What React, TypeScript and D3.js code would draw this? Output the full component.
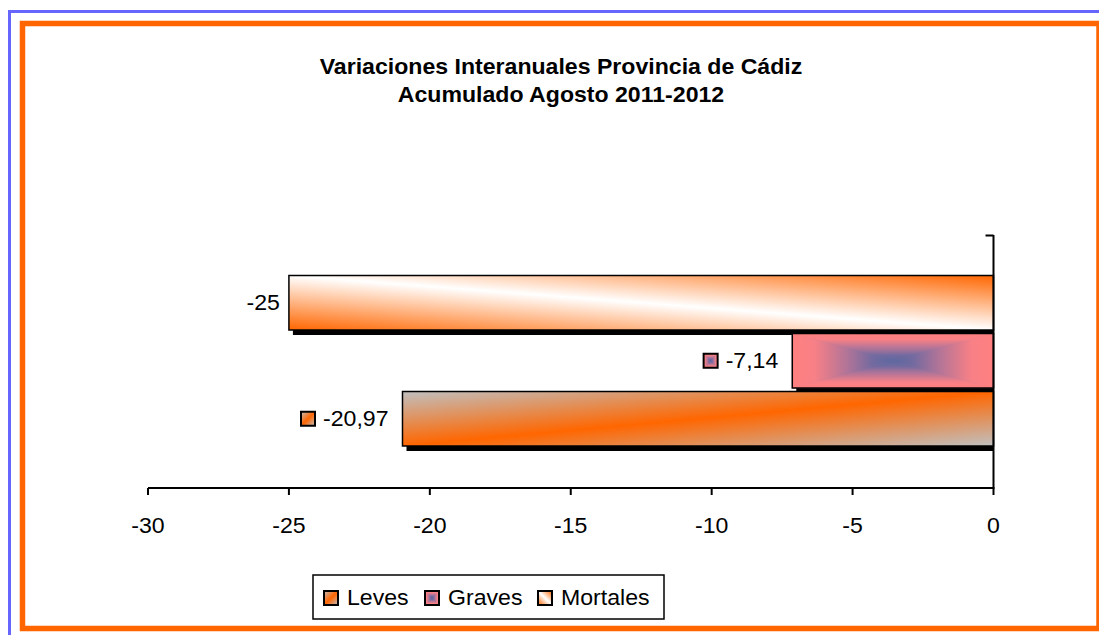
import React from 'react';
import * as d3 from 'd3';

const titleLines = ['Variaciones Interanuales Provincia de Cádiz', 'Acumulado Agosto 2011-2012'];
const legendSeries = ['Leves', 'Graves', 'Mortales'];
const barOrder = ['Mortales', 'Graves', 'Leves'];
const seriesValues = [-20.97, -7.14, -25];
const valueLabels = ['-20,97', '-7,14', '-25'];
const labelHasKey = [true, true, false];
const xTicks = [-30, -25, -20, -15, -10, -5, 0];
const xDomain = [-30, 0];

const W = 1099;
const H = 635;
const FONT = '"Liberation Sans", Arial, sans-serif';
const SX = 1.05;
const FS = 22;
const ORANGE = '#FF6600';

// Arial advance widths (per em) for label measuring
const CW: Record<string, number> = { '-': 0.333, ',': 0.278, '.': 0.278 };
function textWidth(s: string, size: number) {
  let w = 0;
  for (const c of s) w += CW[c] ?? 0.556;
  return w * size * SX;
}

function STxt(props: { x: number; y: number; anchor?: string; size?: number; bold?: boolean; children: React.ReactNode }) {
  const { x, y, anchor = 'start', size = FS, bold = false, children } = props;
  return (
    <text
      transform={`translate(${x},${y}) scale(${SX},1)`}
      textAnchor={anchor}
      fontFamily={FONT}
      fontSize={size}
      fontWeight={bold ? 'bold' : 'normal'}
      fill="#000"
    >
      {children}
    </text>
  );
}

function gradId(name: string) {
  return 'g-' + name;
}

function GravesFill({ x0, x1, y0, y1, id }: { x0: number; x1: number; y0: number; y1: number; id: string }) {
  const cx = (x0 + x1) / 2;
  const cy = (y0 + y1) / 2;
  const stops = (
    <>
      <stop offset="0" stopColor="#FF8080" />
      <stop offset="0.22" stopColor="#F88086" />
      <stop offset="0.55" stopColor="#B07498" />
      <stop offset="0.8" stopColor="#726AA0" />
      <stop offset="1" stopColor="#5C68A0" />
    </>
  );
  return (
    <g>
      <defs>
        <linearGradient id={id + 't'} gradientUnits="userSpaceOnUse" x1={cx} y1={y0} x2={cx} y2={cy}>{stops}</linearGradient>
        <linearGradient id={id + 'b'} gradientUnits="userSpaceOnUse" x1={cx} y1={y1} x2={cx} y2={cy}>{stops}</linearGradient>
        <linearGradient id={id + 'l'} gradientUnits="userSpaceOnUse" x1={x0} y1={cy} x2={cx} y2={cy}>{stops}</linearGradient>
        <linearGradient id={id + 'r'} gradientUnits="userSpaceOnUse" x1={x1} y1={cy} x2={cx} y2={cy}>{stops}</linearGradient>
      </defs>
      <rect x={x0} y={y0} width={x1 - x0} height={y1 - y0} fill="#B07498" />
      <polygon points={`${x0},${y0} ${x1},${y0} ${cx},${cy}`} fill={`url(#${id}t)`} stroke={`url(#${id}t)`} strokeWidth={0.5} />
      <polygon points={`${x0},${y1} ${x1},${y1} ${cx},${cy}`} fill={`url(#${id}b)`} stroke={`url(#${id}b)`} strokeWidth={0.5} />
      <polygon points={`${x0},${y0} ${x0},${y1} ${cx},${cy}`} fill={`url(#${id}l)`} stroke={`url(#${id}l)`} strokeWidth={0.5} />
      <polygon points={`${x1},${y0} ${x1},${y1} ${cx},${cy}`} fill={`url(#${id}r)`} stroke={`url(#${id}r)`} strokeWidth={0.5} />
    </g>
  );
}

function Fill({ name, x0, x1, y0, y1, id }: { name: string; x0: number; x1: number; y0: number; y1: number; id: string }) {
  if (name === 'Graves') return <GravesFill x0={x0} x1={x1} y0={y0} y1={y1} id={id} />;
  return <rect x={x0} y={y0} width={x1 - x0} height={y1 - y0} fill={`url(#${gradId(name)})`} />;
}

export default function App() {
  const x = d3.scaleLinear().domain(xDomain).range([148, 993.5]);
  const plotTop = 235;
  const plotBottom = 488;
  const y = d3.scaleBand<string>().domain(barOrder).range([273.5, 447.5]).padding(0);
  const bw = y.bandwidth();
  const barInsetTop = 2;
  const barInsetBottom = 1.5;
  const shadowDx = 4;
  const shadowDy = 5;

  const bars = barOrder.map((name) => {
    const i = legendSeries.indexOf(name);
    const v = seriesValues[i];
    const xa = x(Math.min(v, 0));
    const xb = x(Math.max(v, 0));
    const y0 = (y(name) as number) + barInsetTop;
    const y1 = (y(name) as number) + bw - barInsetBottom;
    return { name, v, i, xa, xb, y0, y1, cy: (y0 + y1) / 2 };
  });

  const legend = { x: 313, y: 575, w: 351, h: 44 };
  const legendItemX = [323, 424, 537];
  const key = 14;

  return (
    <svg width={W} height={H} style={{ position: 'absolute', left: 0, top: 0, background: '#fff' }}>
      <defs>
        <linearGradient id={gradId('Mortales')} x1="0" y1="1" x2="1" y2="0">
          <stop offset="0" stopColor={ORANGE} />
          <stop offset="0.5" stopColor="#FFFFFF" />
          <stop offset="1" stopColor={ORANGE} />
        </linearGradient>
        <linearGradient id={gradId('Leves')} x1="0" y1="0" x2="1" y2="1">
          <stop offset="0" stopColor="#C0C0C0" />
          <stop offset="0.5" stopColor={ORANGE} />
          <stop offset="1" stopColor="#C0C0C0" />
        </linearGradient>
        <clipPath id="plotclip">
          <rect x={0} y={plotTop} width={x(0)} height={plotBottom - plotTop} />
        </clipPath>
      </defs>

      <rect x={0} y={0} width={W} height={H} fill="#fff" />
      <rect x={9.5} y={11.5} width={W + 20} height={H + 20} fill="none" stroke="#6666FF" strokeWidth={3} />
      <rect x={22.5} y={23.5} width={1099 - 22.5} height={628.5 - 23.5} fill="none" stroke={ORANGE} strokeWidth={5.5} />

      <STxt x={561} y={74} anchor="middle" bold>{titleLines[0]}</STxt>
      <STxt x={561} y={101.5} anchor="middle" bold>{titleLines[1]}</STxt>

      <g clipPath="url(#plotclip)">
        {bars.map((b) => (
          <rect key={'s' + b.name} x={b.xa + shadowDx} y={b.y0 + shadowDy} width={b.xb - b.xa} height={b.y1 - b.y0} fill="#000" />
        ))}
      </g>
      {bars.map((b) => (
        <g key={b.name}>
          <Fill name={b.name} x0={b.xa} x1={b.xb} y0={b.y0} y1={b.y1} id={'bar' + b.name} />
          <rect x={b.xa} y={b.y0} width={b.xb - b.xa} height={b.y1 - b.y0} fill="none" stroke="#000" strokeWidth={1.5} />
        </g>
      ))}

      {bars.map((b) => {
        const label = valueLabels[b.i];
        const tx = b.xa - (labelHasKey[b.i] ? 14 : 9);
        const kx = tx - textWidth(label, FS) - 8 - key;
        return (
          <g key={'l' + b.name}>
            <STxt x={tx} y={b.cy + 7.5} anchor="end">{label}</STxt>
            {labelHasKey[b.i] && (
              <g>
                <Fill name={b.name} x0={kx} x1={kx + key} y0={b.cy - key / 2} y1={b.cy + key / 2} id={'key' + b.name} />
                <rect x={kx} y={b.cy - key / 2} width={key} height={key} fill="none" stroke="#000" strokeWidth={2} />
              </g>
            )}
          </g>
        );
      })}

      <line x1={x(0)} x2={x(0)} y1={plotTop} y2={plotBottom} stroke="#000" strokeWidth={2} />
      <line x1={x(0) - 8} x2={x(0)} y1={plotTop + 0.5} y2={plotTop + 0.5} stroke="#000" strokeWidth={2} />
      <line x1={x(xDomain[0])} x2={x(0) + 1} y1={plotBottom} y2={plotBottom} stroke="#000" strokeWidth={2} />
      {xTicks.map((t) => (
        <g key={t}>
          <line x1={x(t)} x2={x(t)} y1={plotBottom} y2={plotBottom + 7} stroke="#000" strokeWidth={2} />
          <STxt x={x(t)} y={533} anchor="middle">{String(t)}</STxt>
        </g>
      ))}

      <rect x={legend.x} y={legend.y} width={legend.w} height={legend.h} fill="#fff" stroke="#000" strokeWidth={1.5} />
      {legendSeries.map((s, i) => (
        <g key={'lg' + s}>
          <Fill name={s} x0={legendItemX[i] + 1} x1={legendItemX[i] + 15} y0={591} y1={605} id={'lg' + s} />
          <rect x={legendItemX[i] + 1} y={591} width={14} height={14} fill="none" stroke="#000" strokeWidth={2} />
          <STxt x={legendItemX[i] + 24} y={605}>{s}</STxt>
        </g>
      ))}
    </svg>
  );
}
